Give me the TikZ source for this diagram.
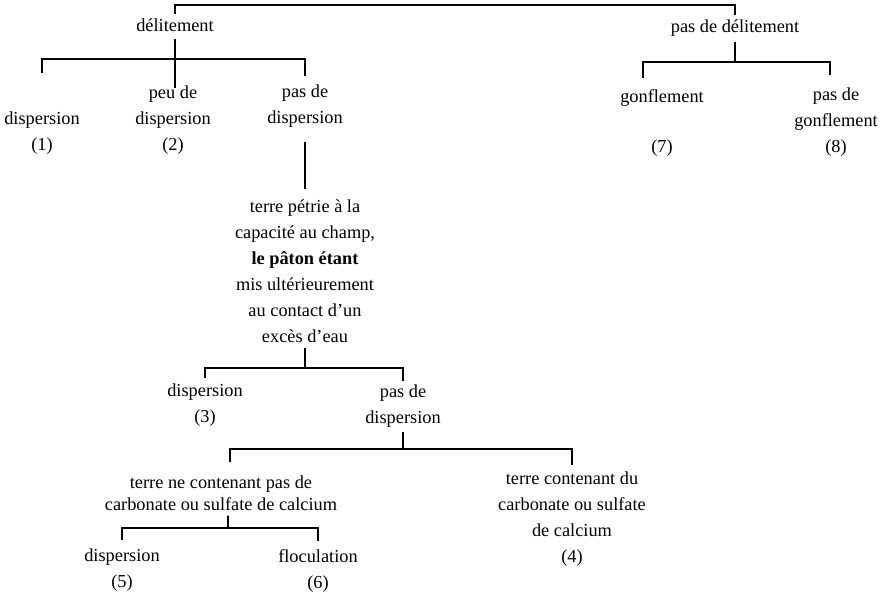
\documentclass[tikz,border=0pt]{standalone}
\usepackage{fontspec}
\setmainfont{Liberation Serif}
\tikzset{
  mynode/.style={anchor=base, align=center, inner sep=1pt,
    font=\fontsize{11}{15.6}\selectfont
  },
  myline/.style={line width=1pt
  }
}

\begin{document}
\begin{tikzpicture}[x=0.6pt,y=-0.6pt]
  \useasboundingbox (0,0) rectangle (890,592);
  % first level
  \node[mynode] (delit) at (175,31) {délitement};
  \node[mynode] (pasdelit) at (735,32) {pas de délitement};
  \coordinate (top) at (455,5);
  \draw[myline, shorten <=1.5pt, shorten >=1.5pt] (delit.north) |- (top) -| (pasdelit.north);

  % délitement
  \node[mynode] (disp1) at (42,150) {dispersion\\(1)};
  \node[mynode] (peu) at (173,150) {peu de\\dispersion\\(2)};
  \node[mynode] (pasdisp1) at (305,123) {pas de\\dispersion};
  \coordinate (bar1) at (175,59);
  \draw[myline, shorten <=21.6pt, shorten >=3.6pt] (disp1.north) |- (bar1) -| (pasdisp1.north);
  \draw[myline, shorten <=3.6pt, shorten >=-3pt] (delit.south) -- (delit.south |- peu.north);

  \node[mynode] (bloc) at (305,342) {terre pétrie à la\\capacité au champ,\\\textbf{le pâton étant}\\mis ultérieurement\\au contact d'un\\excès d'eau};
  \draw[myline, shorten <=7.8pt, shorten >=4.8pt] (pasdisp1.south) -- (bloc.north);

  \node[mynode] (disp3) at (205,422) {dispersion\\(3)};
  \node[mynode] (pasdisp2) at (403,423) {pas de\\dispersion};
  \coordinate (bar2) at (305,368);
  \draw[myline, shorten <=2.4pt] (bloc.south) -- (bloc.south |- bar2);
  \draw[myline, shorten <=2pt, shorten >=1pt] (disp3.north) |- (bar2) -| (pasdisp2.north);

  \node[mynode] (terrene) at (221,510) {terre ne contenant pas de\\[-2.4pt]carbonate ou sulfate de calcium};
  \node[mynode] (terrecont) at (572,562) {terre contenant du\\carbonate ou sulfate\\de calcium\\(4)};
  \coordinate (bar3) at (403,449);
  \draw[myline, shorten <=2pt] (pasdisp2.south) -- (pasdisp2.south |- bar3);
  \draw[myline, shorten <=6.6pt, shorten >=2.4pt] ([xshift=5.4pt]terrene.north) |- (bar3) -| (terrecont.north);

  \node[mynode] (disp5) at (122,587) {dispersion\\(5)};
  \node[mynode] (floc) at (318,588) {floculation\\(6)};
  \coordinate (bar4) at (228,528);
  \draw[myline, shorten <=2pt] ([xshift=4.2pt]terrene.south) -- (bar4);
  \draw[myline, shorten <=3.6pt, shorten >=3.6pt] (disp5.north) |- (bar4) -| (floc.north);

  % pas de délitement
  \node[mynode] (gonf) at (662,152) {gonflement\\[14pt](7)};
  \node[mynode] (pasgonf) at (836,152) {pas de\\gonflement\\(8)};
  \coordinate (bar5) at (735,62);
  \draw[myline, shorten <=2.4pt] (pasdelit.south) -- (bar5);
  \draw[myline, shorten <=6pt, shorten >=6pt] ([xshift=-11.4pt]gonf.north) |- (bar5) -| ([xshift=-3.6pt]pasgonf.north);
\end{tikzpicture}
\end{document}
